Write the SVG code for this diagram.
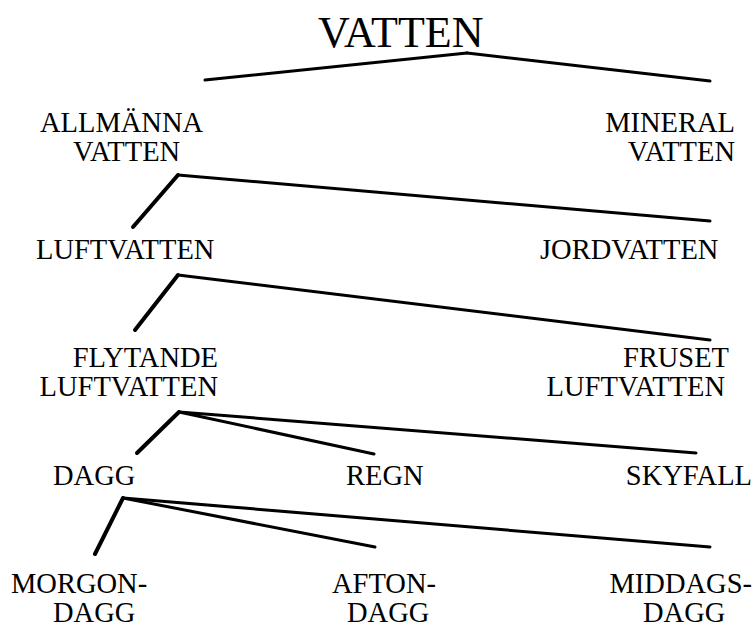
<svg xmlns="http://www.w3.org/2000/svg" width="754" height="629" viewBox="0 0 754 629">
<style>
.c line{stroke:#000;stroke-width:3;stroke-linecap:round}
.c line.t{stroke-width:4}
</style>
<rect width="754" height="629" fill="#fff"/>
<g class="c" id="connectors">
<line x1="467" y1="53" x2="205" y2="80"/>
<line x1="467" y1="53" x2="710" y2="81"/>
<line class="t" x1="178" y1="175" x2="133" y2="227"/>
<line x1="178" y1="175" x2="710" y2="221"/>
<line class="t" x1="178" y1="275" x2="135" y2="330"/>
<line x1="178" y1="275" x2="710" y2="340"/>
<line class="t" x1="179" y1="412" x2="137" y2="453"/>
<line x1="179" y1="412" x2="374" y2="454"/>
<line x1="179" y1="412" x2="696" y2="453"/>
<line class="t" x1="123" y1="498" x2="95" y2="554"/>
<line x1="123" y1="498" x2="375" y2="547"/>
<line x1="123" y1="498" x2="710" y2="547"/>
</g>
<g font-family="Liberation Serif, DejaVu Serif, serif" font-size="28.5" fill="#000">
<g id="vatten"><text font-size="44" x="318" y="47">VATTEN</text></g>
<g id="allmanna"><text><tspan x="40" y="132">ALLMÄNNA</tspan><tspan x="73" y="161">VATTEN</tspan></text></g>
<g id="mineral"><text text-anchor="end"><tspan x="735" y="132">MINERAL</tspan><tspan x="735" y="161">VATTEN</tspan></text></g>
<g id="luftvatten"><text x="36" y="259">LUFTVATTEN</text></g>
<g id="jordvatten"><text x="540" y="259">JORDVATTEN</text></g>
<g id="flytande"><text text-anchor="end"><tspan x="218" y="367">FLYTANDE</tspan><tspan x="218" y="396">LUFTVATTEN</tspan></text></g>
<g id="fruset"><text text-anchor="end"><tspan x="729" y="367">FRUSET</tspan><tspan x="725" y="396">LUFTVATTEN</tspan></text></g>
<g id="dagg"><text x="53" y="485">DAGG</text></g>
<g id="regn"><text x="346" y="485">REGN</text></g>
<g id="skyfall"><text x="752" y="485" text-anchor="end">SKYFALL</text></g>
<g id="morgondagg"><text><tspan x="11" y="593">MORGON-</tspan><tspan x="53" y="622">DAGG</tspan></text></g>
<g id="aftondagg"><text><tspan x="332" y="593">AFTON-</tspan><tspan x="347" y="622">DAGG</tspan></text></g>
<g id="middagsdagg"><text><tspan x="752" y="593" text-anchor="end">MIDDAGS-</tspan><tspan x="643" y="622">DAGG</tspan></text></g>
</g>
</svg>
